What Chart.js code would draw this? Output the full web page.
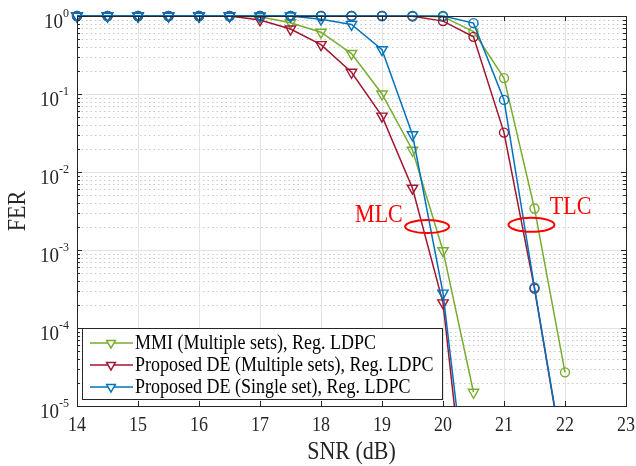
<!DOCTYPE html>
<html>
<head>
<meta charset="utf-8">
<script src="https://cdn.jsdelivr.net/npm/chart.js@4/dist/chart.umd.min.js"></script>
<style>
  html, body { margin: 0; padding: 0; background: #fff; }
  #wrap { width: 636px; height: 466px; }
</style>
</head>
<body>
<div id="wrap"><canvas id="ferChart" width="636" height="466"></canvas></div>
<script>
// SNR points (dB)
const snr = [14, 14.5, 15, 15.5, 16, 16.5, 17, 17.5, 18, 18.5, 19, 19.5, 20, 20.5, 21, 21.5, 22];

// MLC curves (triangles)
const mmiMlc      = [1, 1, 1, 1, 1, 1, 0.98, 0.82, 0.62, 0.33, 0.10, 0.019, 9.8e-4, 1.5e-5, null, null, null];
const deMultiMlc  = [1, 1, 1, 1, 1, 1, 0.89, 0.68, 0.43, 0.19, 0.052, 0.0062, 2.1e-4, 6e-8, null, null, null];
const deSingleMlc = [1, 1, 1, 1, 1, 1, 1, 1, 0.91, 0.78, 0.37, 0.030, 2.8e-4, 1.4e-7, null, null, null];

// TLC curves (circles)
const mmiTlc      = [1, 1, 1, 1, 1, 1, 1, 1, 1, 1, 1, 1, 0.98, 0.63, 0.16, 0.0034, 2.7e-5];
const deMultiTlc  = [1, 1, 1, 1, 1, 1, 1, 1, 1, 1, 1, 0.99, 0.86, 0.54, 0.032, 3.2e-4, 1.5e-6];
const deSingleTlc = [1, 1, 1, 1, 1, 1, 1, 1, 1, 1, 1, 1, 1, 0.81, 0.084, 3.3e-4, 1.6e-6];

const xTicks = [14, 15, 16, 17, 18, 19, 20, 21, 22, 23];
const yExponents = [0, -1, -2, -3, -4, -5];
const legendLabels = [
  'MMI (Multiple sets), Reg. LDPC',
  'Proposed DE (Multiple sets), Reg. LDPC',
  'Proposed DE (Single set), Reg. LDPC'
];

const GREEN = '#77AC30', RED = '#A2142F', BLUE = '#0072BD';
const SERIF = '"Liberation Serif", "Times New Roman", serif';
const STRETCH = 1.12; // the reference text is a bit taller than wide

function series(label, vals, color, style) {
  return {
    label: label,
    data: snr.map((x, i) => ({ x: x, y: vals[i] })).filter(p => p.y != null),
    borderColor: color,
    backgroundColor: 'rgba(0,0,0,0)',
    pointBackgroundColor: 'rgba(0,0,0,0)',
    pointBorderColor: color,
    borderWidth: 1.5,
    pointBorderWidth: 1.4,
    pointStyle: style,
    pointRotation: style === 'triangle' ? 180 : 0,
    pointRadius: style === 'triangle' ? 6 : 4.5,
    tension: 0,
    clip: { left: 10, top: 10, right: 10, bottom: 0 }
  };
}

function text(ctx, str, x, y, size, align, rot) {
  ctx.save();
  ctx.translate(x, y);
  if (rot) ctx.rotate(rot);
  ctx.scale(1, STRETCH);
  ctx.font = size + 'px ' + SERIF;
  ctx.textAlign = align;
  ctx.textBaseline = 'middle';
  ctx.fillText(str, 0, 0);
  const w = ctx.measureText(str).width;
  ctx.restore();
  return w;
}

// draws grid, axes box, tick labels, legend and annotations
const decorPlugin = {
  id: 'decor',
  beforeDatasetsDraw(chart) {
    const { ctx, chartArea: a, scales: { x, y } } = chart;
    ctx.save();
    ctx.lineWidth = 1;
    // minor dotted grid
    ctx.strokeStyle = '#c8c8c8';
    ctx.setLineDash([1.5, 3]);
    for (let e = -5; e < 0; e++) {
      for (let m = 2; m <= 9; m++) {
        const py = Math.round(y.getPixelForValue(m * Math.pow(10, e))) + 0.5;
        ctx.beginPath(); ctx.moveTo(a.left, py); ctx.lineTo(a.right, py); ctx.stroke();
      }
    }
    // major grid
    ctx.setLineDash([]);
    ctx.strokeStyle = '#e3e3e3';
    yExponents.forEach(e => {
      const py = Math.round(y.getPixelForValue(Math.pow(10, e))) + 0.5;
      ctx.beginPath(); ctx.moveTo(a.left, py); ctx.lineTo(a.right, py); ctx.stroke();
    });
    xTicks.forEach(v => {
      const px = Math.round(x.getPixelForValue(v)) + 0.5;
      ctx.beginPath(); ctx.moveTo(px, a.top); ctx.lineTo(px, a.bottom); ctx.stroke();
    });
    ctx.restore();
  },
  afterDatasetsDraw(chart) {
    const { ctx, chartArea: a, scales: { x, y } } = chart;
    ctx.save();
    // axes box
    ctx.strokeStyle = '#262626';
    ctx.lineWidth = 1;
    ctx.strokeRect(Math.round(a.left) + 0.5, Math.round(a.top) + 0.5,
      Math.round(a.right - a.left), Math.round(a.bottom - a.top));
    // x ticks
    xTicks.forEach(v => {
      const px = Math.round(x.getPixelForValue(v)) + 0.5;
      ctx.beginPath();
      ctx.moveTo(px, a.bottom); ctx.lineTo(px, a.bottom - 5);
      ctx.moveTo(px, a.top); ctx.lineTo(px, a.top + 5);
      ctx.stroke();
    });
    // y ticks
    for (let e = -5; e <= 0; e++) {
      for (let m = 1; m <= 9; m++) {
        if (e === 0 && m > 1) break;
        const py = Math.round(y.getPixelForValue(m * Math.pow(10, e))) + 0.5;
        const len = m === 1 ? 5 : 3;
        ctx.beginPath();
        ctx.moveTo(a.left, py); ctx.lineTo(a.left + len, py);
        ctx.moveTo(a.right, py); ctx.lineTo(a.right - len, py);
        ctx.stroke();
      }
    }
    // tick labels
    ctx.fillStyle = '#262626';
    xTicks.forEach(v => text(ctx, String(v), x.getPixelForValue(v), a.bottom + 20, 18, 'center'));
    yExponents.forEach(e => {
      const py = y.getPixelForValue(Math.pow(10, e));
      const w = text(ctx, String(e), a.left - 8, py - 3, 12, 'right');
      text(ctx, '10', a.left - 8 - w, py + 6, 19, 'right');
    });
    // axis titles
    text(ctx, 'SNR (dB)', (a.left + a.right) / 2, a.bottom + 47, 22, 'center');
    text(ctx, 'FER', 19, (a.top + a.bottom) / 2, 22, 'center', -Math.PI / 2);

    // annotations
    ctx.strokeStyle = '#ff0000';
    ctx.fillStyle = '#ff0000';
    ctx.lineWidth = 2;
    const mlcX = x.getPixelForValue(19.74), mlcY = y.getPixelForValue(2.0e-3);
    const tlcX = x.getPixelForValue(21.45), tlcY = y.getPixelForValue(2.1e-3);
    ctx.beginPath(); ctx.ellipse(mlcX, mlcY, 22, 6.5, 0, 0, Math.PI * 2); ctx.stroke();
    ctx.beginPath(); ctx.ellipse(tlcX, tlcY, 23, 7, 0, 0, Math.PI * 2); ctx.stroke();
    text(ctx, 'MLC', x.getPixelForValue(19.34), y.getPixelForValue(2.8e-3), 22, 'right');
    text(ctx, 'TLC', x.getPixelForValue(21.75), y.getPixelForValue(3.5e-3), 22, 'left');

    // legend
    const lx = 82, ly = 328, lw = 360, lh = 71;
    ctx.fillStyle = '#fff';
    ctx.fillRect(lx, ly, lw, lh);
    ctx.strokeStyle = '#262626';
    ctx.lineWidth = 1;
    ctx.strokeRect(lx + 0.5, ly + 0.5, lw, lh);
    const colors = [GREEN, RED, BLUE];
    legendLabels.forEach((txt, i) => {
      const cy = ly + 15 + i * 22;
      ctx.strokeStyle = colors[i];
      ctx.lineWidth = 1.5;
      ctx.beginPath(); ctx.moveTo(lx + 8, cy); ctx.lineTo(lx + 51, cy); ctx.stroke();
      const mx = lx + 29, r = 5;
      ctx.fillStyle = '#fff';
      ctx.beginPath();
      ctx.moveTo(mx, cy + r);
      ctx.lineTo(mx - r * 0.866, cy - r / 2);
      ctx.lineTo(mx + r * 0.866, cy - r / 2);
      ctx.closePath();
      ctx.fill();
      ctx.stroke();
      ctx.fillStyle = '#000';
      text(ctx, txt, lx + 53, cy + 1, 18, 'left');
    });
    ctx.restore();
  }
};

new Chart(document.getElementById('ferChart').getContext('2d'), {
  type: 'line',
  data: {
    datasets: [
      series('Proposed DE (Single set), Reg. LDPC', deSingleMlc, BLUE, 'triangle'),
      series('Proposed DE (Single set), Reg. LDPC TLC', deSingleTlc, BLUE, 'circle'),
      series('Proposed DE (Multiple sets), Reg. LDPC', deMultiMlc, RED, 'triangle'),
      series('Proposed DE (Multiple sets), Reg. LDPC TLC', deMultiTlc, RED, 'circle'),
      series('MMI (Multiple sets), Reg. LDPC', mmiMlc, GREEN, 'triangle'),
      series('MMI (Multiple sets), Reg. LDPC TLC', mmiTlc, GREEN, 'circle')
    ]
  },
  options: {
    responsive: false,
    animation: false,
    devicePixelRatio: 1,
    layout: { padding: { left: 0, right: 10, top: 16, bottom: 0 } },
    plugins: { legend: { display: false }, tooltip: { enabled: false } },
    scales: {
      x: {
        type: 'linear', min: 14, max: 23,
        grid: { display: false }, border: { display: false },
        ticks: { display: false },
        afterFit: s => { s.height = 60; }
      },
      y: {
        type: 'logarithmic', min: 1e-5, max: 1,
        grid: { display: false }, border: { display: false },
        ticks: { display: false },
        afterFit: s => { s.width = 77; }
      }
    }
  },
  plugins: [decorPlugin]
});
</script>
</body>
</html>
